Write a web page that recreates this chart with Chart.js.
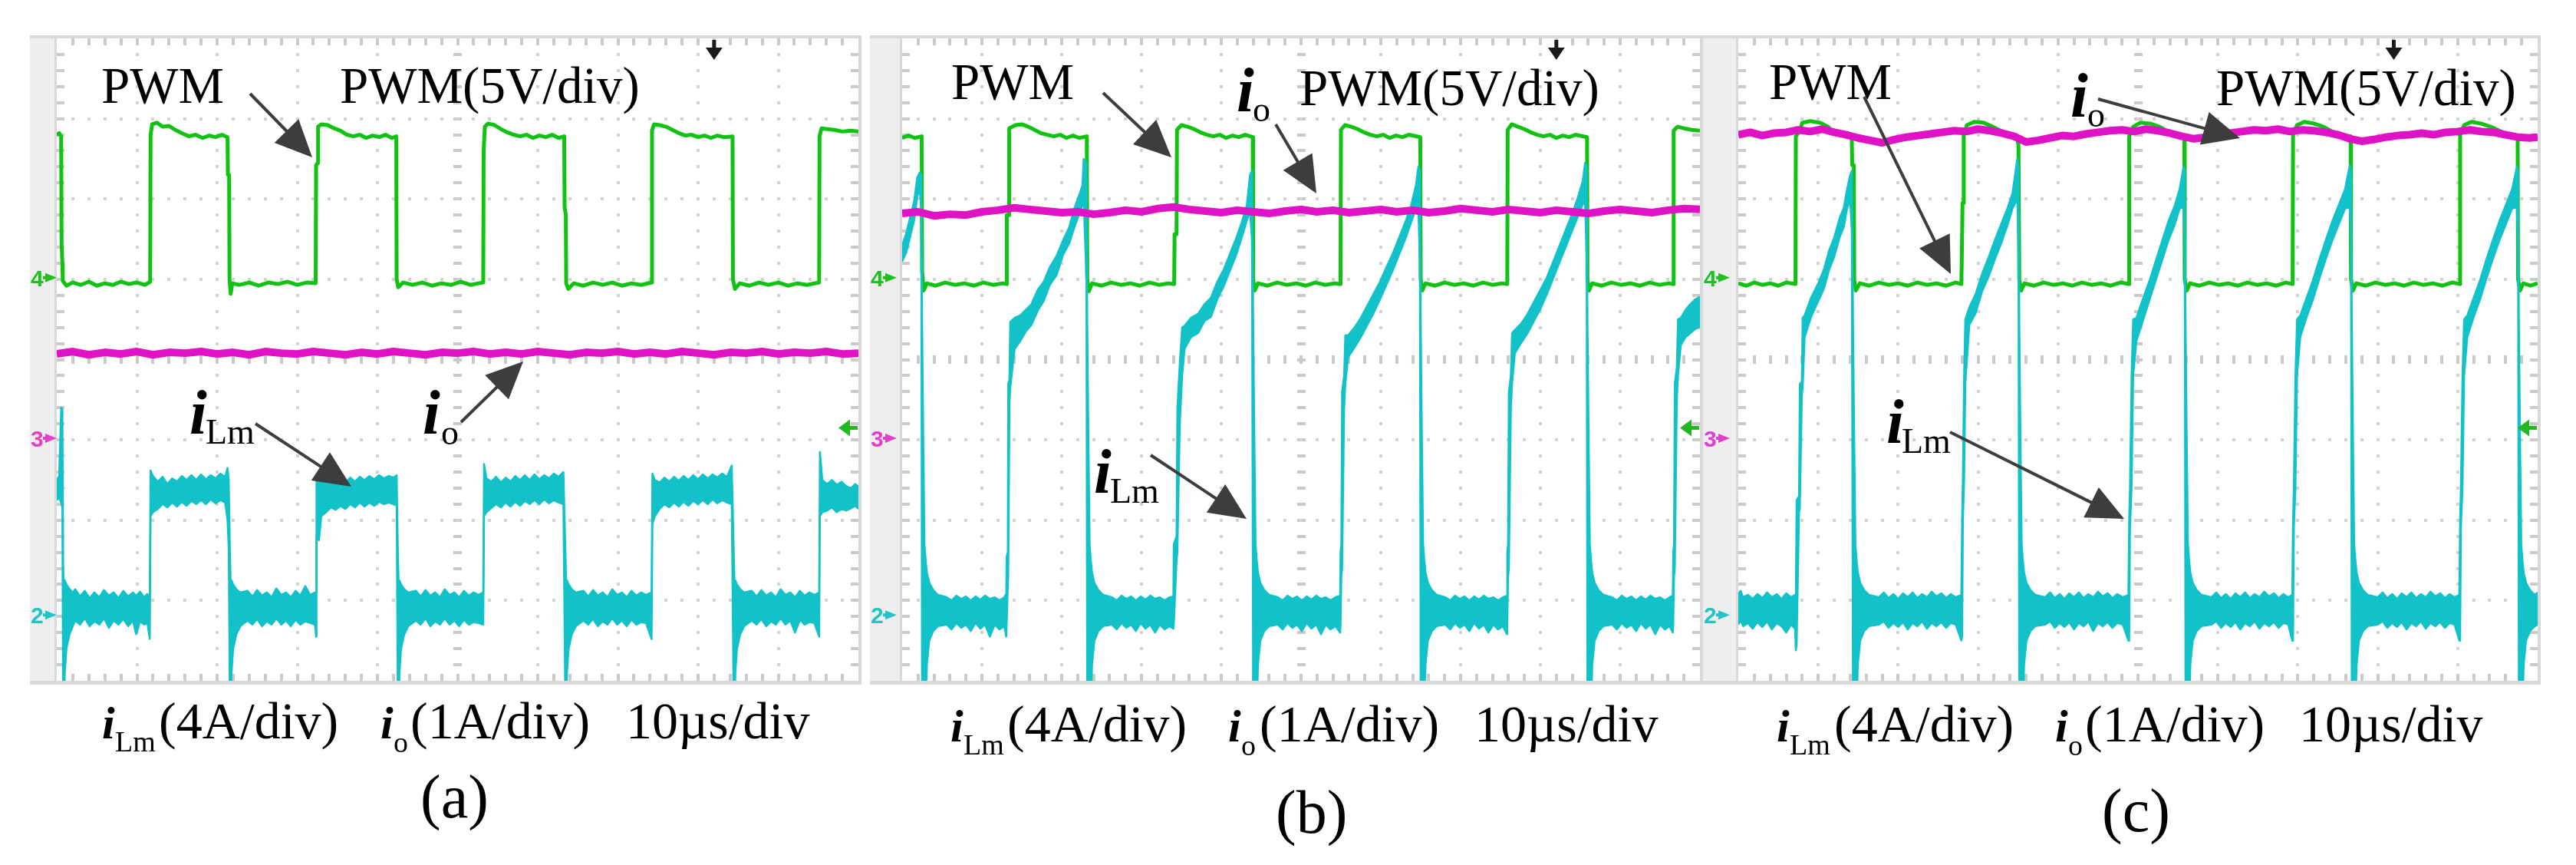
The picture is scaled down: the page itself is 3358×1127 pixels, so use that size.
<!DOCTYPE html>
<html><head><meta charset="utf-8">
<script src="https://cdn.jsdelivr.net/npm/chart.js@4.4.1/dist/chart.umd.min.js"></script>
<style>
html,body{margin:0;padding:0;background:#fff;width:3358px;height:1127px;overflow:hidden;}
.frame{position:absolute;background:#d9d9d9;}
.strip{position:absolute;background:#eeeeee;}
canvas{position:absolute;background:#fff;}
#ov{position:absolute;left:0;top:0;pointer-events:none;}
</style></head><body>
<div id="root"></div>
<svg id="ov" width="3358" height="1127"></svg>
<script>
// ---------------- DATA (time in µs, amplitude in divisions) ----------------
// Panel (a)
const pwmA = [[0,2.8],[0.3,2.82],[0.55,2.78],[0.6,1.45],[0.7,1.2],[0.75,0.98],[1.2,0.92],[2,0.96],[3,0.93],[4,0.97],[5,0.92],[6,0.95],[7,0.93],[8,0.97],[9,0.94],[10,0.96],[11,0.93],[11.65,0.97],
[11.7,2.8],[11.9,2.93],[12.5,2.95],[13.2,2.9],[14,2.91],[14.8,2.86],[15.6,2.82],[16.5,2.78],[17.3,2.8],[18.2,2.76],[19,2.79],[19.8,2.77],[20.6,2.8],[21.3,2.77],[21.35,2.3],[21.5,2.3],[21.55,1.0],[21.7,0.82],[21.9,0.95],[22.8,0.93],[24,0.96],[25.2,0.92],[26.4,0.96],[27.6,0.94],[28.8,0.97],[30,0.93],[31.2,0.96],[32.3,0.95],
[32.35,2.42],[32.55,2.45],[32.6,2.9],[33,2.93],[33.8,2.92],[34.6,2.88],[35.4,2.85],[36.2,2.8],[37,2.78],[37.8,2.8],[38.6,2.76],[39.4,2.79],[40.2,2.77],[41,2.8],[41.8,2.76],[42.35,2.78],[42.4,1.0],[42.6,0.9],[43.2,0.96],[44.4,0.93],[45.6,0.96],[46.8,0.92],[48,0.95],[49.2,0.93],[50.4,0.97],[51.6,0.93],[52.6,0.95],[53.2,0.96],
[53.25,2.6],[53.4,2.9],[53.8,2.94],[54.6,2.92],[55.4,2.87],[56.2,2.83],[57,2.8],[57.8,2.78],[58.6,2.8],[59.4,2.76],[60.2,2.79],[61,2.77],[61.8,2.8],[62.6,2.76],[63.3,2.78],[63.35,1.9],[63.5,1.8],[63.55,0.95],[63.8,0.88],[64.5,0.95],[65.7,0.92],[66.9,0.96],[68.1,0.93],[69.3,0.96],[70.5,0.92],[71.7,0.95],[72.9,0.93],[74.2,0.96],
[74.25,2.85],[74.5,2.93],[75.2,2.92],[76,2.9],[76.8,2.86],[77.6,2.82],[78.4,2.79],[79.2,2.8],[80,2.77],[80.8,2.79],[81.6,2.76],[82.4,2.79],[83.2,2.77],[84.3,2.78],[84.35,1.0],[84.6,0.88],[85.2,0.95],[86.4,0.92],[87.6,0.96],[88.8,0.93],[90,0.96],[91.2,0.92],[92.4,0.95],[93.6,0.93],[95.1,0.96],
[95.15,2.78],[95.4,2.88],[96.2,2.87],[97,2.86],[98,2.84],[99,2.85],[100,2.84]];

const ioA = [[0,0.07],[2,0.1],[4,0.06],[6,0.09],[8,0.07],[10,0.1],[12,0.06],[14,0.09],[16,0.08],[18,0.1],[20,0.07],[22,0.09],[24,0.06],[26,0.1],[28,0.08],[30,0.07],[32,0.1],[34,0.08],[36,0.06],[38,0.09],[40,0.07],[42,0.1],[44,0.08],[46,0.06],[48,0.09],[50,0.08],[52,0.1],[54,0.07],[56,0.09],[58,0.07],[60,0.1],[62,0.08],[64,0.06],[66,0.09],[68,0.08],[70,0.1],[72,0.07],[74,0.09],[76,0.07],[78,0.1],[80,0.08],[82,0.06],[84,0.09],[86,0.08],[88,0.1],[90,0.07],[92,0.09],[94,0.08],[96,0.1],[98,0.07],[100,0.08]];

// [t, upper edge of noisy trace, lower edge of noisy trace]
const iLmA = [[0,-1.5,-1.75],[0.3,-1.45,-1.72],[0.55,-0.6,-1.78],[0.7,-0.62,-1.85],[0.8,-2.6,-4.4],[0.9,-2.8,-4.4],[1.0,-2.75,-3.9],[1.2,-2.8,-3.6],[1.6,-2.86,-3.42],[2.0,-2.9,-3.32],
[2.3,-2.86,-3.25],[2.9,-2.95,-3.3],[3.5,-2.88,-3.22],[4.1,-2.97,-3.32],[4.7,-2.9,-3.26],[5.3,-2.96,-3.3],[5.9,-2.87,-3.22],[6.5,-2.94,-3.34],[7.1,-2.9,-3.25],[7.7,-2.97,-3.3],[8.3,-2.88,-3.23],[8.9,-2.95,-3.32],[9.5,-2.9,-3.25],[9.9,-2.94,-3.42],[10.4,-2.89,-3.26],[10.9,-2.96,-3.3],[11.3,-2.92,-3.28],[11.6,-2.95,-3.48],
[11.7,-1.38,-1.95],[12.0,-1.45,-1.9],[12.6,-1.52,-1.86],[13.2,-1.46,-1.8],[13.8,-1.55,-1.84],[14.4,-1.48,-1.78],[15.0,-1.52,-1.83],[15.6,-1.45,-1.77],[16.2,-1.5,-1.82],[16.8,-1.44,-1.76],[17.4,-1.5,-1.8],[18.0,-1.43,-1.75],[18.6,-1.49,-1.8],[19.2,-1.44,-1.74],[19.8,-1.48,-1.79],[20.4,-1.42,-1.75],[21.0,-1.46,-1.78],[21.3,-1.35,-2.0],[21.45,-1.5,-2.35],
[21.6,-2.4,-4.4],[21.7,-2.8,-4.4],[21.8,-2.75,-3.9],[22.0,-2.8,-3.6],[22.4,-2.86,-3.42],[22.9,-2.9,-3.32],
[23.8,-2.88,-3.25],[24.4,-2.95,-3.3],[25.0,-2.87,-3.23],[25.6,-2.94,-3.32],[26.2,-2.9,-3.26],[26.8,-2.96,-3.3],[27.4,-2.85,-3.22],[28.0,-2.93,-3.3],[28.6,-2.9,-3.25],[29.2,-2.96,-3.32],[29.8,-2.88,-3.24],[30.4,-2.94,-3.3],[31.0,-2.82,-3.26],[31.6,-2.93,-3.28],[32.2,-2.9,-3.3],[32.35,-2.9,-3.45],
[32.4,-1.5,-2.2],[32.7,-1.52,-2.25],[33.0,-1.5,-1.95],[33.6,-1.55,-1.9],[34.2,-1.5,-1.84],[34.8,-1.56,-1.87],[35.4,-1.5,-1.82],[36.0,-1.54,-1.86],[36.6,-1.47,-1.8],[37.2,-1.52,-1.84],[37.8,-1.46,-1.78],[38.4,-1.5,-1.83],[39.0,-1.45,-1.78],[39.6,-1.49,-1.82],[40.2,-1.44,-1.77],[40.8,-1.48,-1.8],[41.4,-1.45,-1.78],[42.0,-1.47,-1.8],[42.4,-1.44,-1.82],
[42.55,-2.4,-4.4],[42.65,-2.8,-4.4],[42.75,-2.75,-3.9],[42.95,-2.8,-3.6],[43.35,-2.86,-3.42],[43.85,-2.9,-3.32],
[44.8,-2.88,-3.25],[45.4,-2.95,-3.3],[46.0,-2.87,-3.22],[46.6,-2.94,-3.32],[47.2,-2.9,-3.26],[47.8,-2.96,-3.3],[48.4,-2.86,-3.22],[49.0,-2.93,-3.3],[49.6,-2.9,-3.25],[50.2,-2.96,-3.32],[50.8,-2.88,-3.24],[51.4,-2.94,-3.3],[52.0,-2.9,-3.27],[52.6,-2.93,-3.28],[53.2,-2.9,-3.3],
[53.3,-1.3,-1.95],[53.6,-1.48,-1.9],[54.2,-1.52,-1.85],[54.8,-1.46,-1.8],[55.4,-1.53,-1.84],[56.0,-1.47,-1.78],[56.6,-1.52,-1.83],[57.2,-1.45,-1.77],[57.8,-1.5,-1.82],[58.4,-1.44,-1.76],[59.0,-1.5,-1.8],[59.6,-1.43,-1.75],[60.2,-1.49,-1.8],[60.8,-1.44,-1.74],[61.4,-1.48,-1.79],[62.0,-1.42,-1.75],[62.6,-1.46,-1.78],[63.2,-1.4,-1.8],
[63.45,-2.4,-4.4],[63.55,-2.8,-4.4],[63.65,-2.75,-3.9],[63.85,-2.8,-3.6],[64.25,-2.86,-3.42],[64.75,-2.9,-3.32],
[65.7,-2.88,-3.25],[66.3,-2.95,-3.3],[66.9,-2.87,-3.23],[67.5,-2.94,-3.32],[68.1,-2.9,-3.26],[68.7,-2.96,-3.3],[69.3,-2.86,-3.22],[69.9,-2.93,-3.3],[70.5,-2.9,-3.25],[71.1,-2.96,-3.32],[71.7,-2.88,-3.24],[72.3,-2.94,-3.3],[72.9,-2.9,-3.27],[73.5,-2.93,-3.28],[74.2,-2.9,-3.48],
[74.3,-1.42,-2.05],[74.6,-1.5,-1.95],[75.2,-1.53,-1.86],[75.8,-1.47,-1.8],[76.4,-1.52,-1.84],[77.0,-1.46,-1.78],[77.6,-1.51,-1.83],[78.2,-1.45,-1.77],[78.8,-1.5,-1.82],[79.4,-1.44,-1.76],[80.0,-1.49,-1.8],[80.6,-1.43,-1.75],[81.2,-1.48,-1.8],[81.8,-1.43,-1.74],[82.4,-1.47,-1.79],[83.0,-1.42,-1.75],[83.6,-1.46,-1.78],[84.2,-1.32,-1.8],
[84.45,-2.4,-4.4],[84.55,-2.8,-4.4],[84.65,-2.75,-3.9],[84.85,-2.8,-3.6],[85.25,-2.86,-3.42],[85.75,-2.9,-3.32],
[86.7,-2.88,-3.25],[87.3,-2.95,-3.3],[87.9,-2.87,-3.23],[88.5,-2.94,-3.32],[89.1,-2.9,-3.26],[89.7,-2.96,-3.3],[90.3,-2.86,-3.22],[90.9,-2.93,-3.3],[91.5,-2.9,-3.25],[92.1,-2.96,-3.4],[92.7,-2.88,-3.24],[93.3,-2.94,-3.3],[93.9,-2.9,-3.27],[94.5,-2.93,-3.28],[95.1,-2.9,-3.45],
[95.2,-1.15,-1.95],[95.5,-1.5,-1.9],[96.1,-1.55,-1.88],[96.7,-1.5,-1.84],[97.3,-1.56,-1.9],[97.9,-1.52,-1.86],[98.5,-1.58,-1.88],[99.1,-1.6,-1.85],[99.6,-1.55,-1.82],[100,-1.58,-1.86]];

// Panel (b)
const pwmB = [[0,2.76],[0.8,2.79],[1.6,2.76],[2.45,2.78],[2.5,1.1],[2.7,0.86],[3.1,0.95],[4.2,0.92],[5.4,0.96],[6.6,0.93],[7.8,0.95],[9,0.92],[10.2,0.96],[11.4,0.93],[12.6,0.95],[13.1,0.94],
[13.12,1.8],[13.4,1.8],[13.42,2.88],[14.2,2.92],[15,2.93],[15.8,2.9],[16.6,2.86],[17.4,2.82],[18.2,2.8],[19,2.78],[19.8,2.8],[20.6,2.76],[21.4,2.79],[22.2,2.76],[23.15,2.78],
[23.2,1.0],[23.4,0.85],[23.8,0.95],[25,0.92],[26.2,0.96],[27.4,0.93],[28.6,0.95],[29.8,0.92],[31,0.96],[32.2,0.93],[33.4,0.95],[34.1,0.94],
[34.15,1.56],[34.4,1.56],[34.45,2.86],[35,2.92],[35.8,2.9],[36.6,2.87],[37.4,2.83],[38.2,2.8],[39,2.78],[39.8,2.8],[40.6,2.76],[41.4,2.79],[42.2,2.77],[43.0,2.8],[43.95,2.77],
[44.0,1.0],[44.2,0.86],[44.6,0.95],[45.8,0.92],[47,0.96],[48.2,0.93],[49.4,0.95],[50.6,0.92],[51.8,0.96],[53,0.93],[54.2,0.95],[54.95,0.94],
[55.0,2.86],[55.5,2.92],[56.3,2.9],[57.1,2.87],[57.9,2.83],[58.7,2.8],[59.5,2.78],[60.3,2.8],[61.1,2.76],[61.9,2.79],[62.7,2.77],[63.5,2.8],[64.95,2.77],
[65.0,1.0],[65.2,0.86],[65.6,0.95],[66.8,0.92],[68,0.96],[69.2,0.93],[70.4,0.95],[71.6,0.92],[72.8,0.96],[74,0.93],[75.2,0.95],[75.85,0.94],
[75.9,2.86],[76.4,2.93],[77.2,2.9],[78,2.87],[78.8,2.83],[79.6,2.8],[80.4,2.78],[81.2,2.8],[82,2.76],[82.8,2.79],[83.6,2.77],[84.4,2.8],[85.85,2.77],
[85.9,1.0],[86.1,0.86],[86.5,0.95],[87.7,0.92],[88.9,0.96],[90.1,0.93],[91.3,0.95],[92.5,0.92],[93.7,0.96],[94.9,0.93],[96.1,0.95],[96.65,0.94],
[96.7,2.85],[97.2,2.9],[98,2.88],[99,2.86],[100,2.85]];

const ioB = [[0,1.82],[2,1.84],[4,1.79],[6,1.81],[8,1.8],[10,1.84],[12,1.86],[14,1.89],[16,1.87],[18,1.85],[20,1.83],[22,1.84],[24,1.81],[26,1.83],[28,1.86],[30,1.84],[32,1.88],[34,1.9],[36,1.87],[38,1.85],[40,1.83],[42,1.86],[44,1.84],[46,1.82],[48,1.85],[50,1.87],[52,1.84],[54,1.86],[56,1.83],[58,1.85],[60,1.87],[62,1.84],[64,1.86],[66,1.83],[68,1.85],[70,1.88],[72,1.86],[74,1.84],[76,1.87],[78,1.85],[80,1.83],[82,1.86],[84,1.84],[86,1.82],[88,1.85],[90,1.87],[92,1.85],[94,1.83],[96,1.86],[98,1.88],[100,1.87]];

const iLmB = [[0,1.42,1.22],[0.5,1.57,1.33],[1.0,1.77,1.53],[1.5,1.97,1.73],[1.9,2.27,2.03],[2.2,2.33,2.12],[2.4,2.3,1.9],
[2.5,0.5,-4.4],[2.65,-1.0,-4.4],[2.8,-2.3,-4.4],[2.95,-2.5,-4.4],[3.1,-2.65,-3.8],[3.4,-2.78,-3.5],[3.9,-2.87,-3.38],[4.5,-2.93,-3.32],
[5.6,-2.96,-3.3],[6.2,-3.0,-3.36],[6.8,-2.94,-3.28],[7.4,-2.98,-3.34],[8.0,-2.95,-3.3],[8.6,-3.0,-3.38],[9.2,-2.95,-3.28],[9.8,-2.99,-3.35],[10.4,-2.94,-3.3],[11.0,-2.98,-3.45],[11.6,-2.96,-3.3],[12.2,-3.0,-3.36],[12.8,-2.96,-3.32],[13.05,-2.92,-3.45],
[13.1,-2.45,-3.3],[13.25,-2.4,-2.8],[13.3,-0.3,-2.7],[13.45,-0.25,-0.55],[13.55,0.47,-0.35],[14.1,0.52,0.13],[14.8,0.55,0.23],[15.5,0.62,0.35],[16.2,0.69,0.43],[17.0,0.87,0.61],[17.75,0.97,0.73],[18.5,1.15,0.93],[19.35,1.29,1.05],[20.2,1.49,1.31],[20.95,1.65,1.45],[21.6,1.89,1.65],[22.2,2.05,1.81],[22.6,2.17,1.93],[22.75,2.5,2.0],[23.1,2.45,1.0],
[23.2,0.5,-4.4],[23.35,-1.0,-4.4],[23.5,-2.3,-4.4],[23.65,-2.5,-4.4],[23.8,-2.65,-3.8],[24.1,-2.78,-3.5],[24.6,-2.87,-3.38],[25.2,-2.93,-3.32],
[26.3,-2.96,-3.3],[26.9,-3.0,-3.36],[27.5,-2.94,-3.28],[28.1,-2.98,-3.34],[28.7,-2.95,-3.3],[29.3,-3.0,-3.38],[29.9,-2.95,-3.28],[30.5,-2.99,-3.35],[31.1,-2.94,-3.3],[31.7,-2.98,-3.4],[32.3,-2.96,-3.3],[32.9,-3.0,-3.36],[33.5,-2.96,-3.32],[34.0,-2.95,-3.35],
[34.05,-2.3,-3.3],[34.4,-2.2,-2.5],[34.5,-0.6,-2.4],[34.8,-0.05,-0.8],[35.1,0.4,-0.2],[35.4,0.42,0.13],[36.2,0.52,0.28],[37.1,0.57,0.33],[37.9,0.69,0.48],[38.7,0.77,0.53],[39.5,0.97,0.75],[40.3,1.12,0.91],[41.1,1.32,1.11],[41.9,1.52,1.31],[42.6,1.72,1.53],[43.2,1.92,1.73],[43.6,2.3,1.85],[43.85,2.35,1.5],
[44.0,0.5,-4.4],[44.15,-1.0,-4.4],[44.3,-2.3,-4.4],[44.45,-2.5,-4.4],[44.6,-2.65,-3.8],[44.9,-2.78,-3.5],[45.4,-2.87,-3.38],[46.0,-2.93,-3.32],
[47.1,-2.96,-3.3],[47.7,-3.0,-3.36],[48.3,-2.94,-3.28],[48.9,-2.98,-3.34],[49.5,-2.95,-3.3],[50.1,-3.0,-3.38],[50.7,-2.95,-3.28],[51.3,-2.99,-3.35],[51.9,-2.94,-3.3],[52.5,-2.98,-3.42],[53.1,-2.96,-3.3],[53.7,-3.0,-3.36],[54.3,-2.96,-3.32],[54.9,-2.94,-3.4],
[54.95,-2.4,-3.3],[55.05,-2.3,-2.7],[55.15,-0.4,-2.6],[55.4,-0.2,-0.6],[55.55,0.3,-0.3],[55.9,0.3,0.03],[56.7,0.4,0.15],[57.5,0.52,0.28],[58.3,0.67,0.43],[59.1,0.82,0.58],[59.9,0.97,0.75],[60.7,1.15,0.93],[61.5,1.32,1.11],[62.3,1.52,1.31],[63.1,1.72,1.51],[63.8,1.92,1.71],[64.4,2.17,1.88],[64.7,2.4,1.9],[64.9,2.35,1.2],
[65.0,0.5,-4.4],[65.15,-1.0,-4.4],[65.3,-2.3,-4.4],[65.45,-2.5,-4.4],[65.6,-2.65,-3.8],[65.9,-2.78,-3.5],[66.4,-2.87,-3.38],[67.0,-2.93,-3.32],
[68.1,-2.96,-3.3],[68.7,-3.0,-3.36],[69.3,-2.94,-3.28],[69.9,-2.98,-3.34],[70.5,-2.95,-3.3],[71.1,-3.0,-3.38],[71.7,-2.95,-3.28],[72.3,-2.99,-3.35],[72.9,-2.94,-3.3],[73.5,-2.98,-3.4],[74.1,-2.96,-3.3],[74.7,-3.0,-3.36],[75.3,-2.96,-3.32],[75.8,-2.94,-3.42],
[75.85,-2.4,-3.3],[75.95,-2.3,-2.7],[76.05,-0.4,-2.6],[76.3,-0.2,-0.6],[76.45,0.33,-0.3],[76.8,0.37,0.08],[77.6,0.45,0.21],[78.4,0.57,0.33],[79.2,0.72,0.48],[80.0,0.87,0.63],[80.8,1.02,0.81],[81.6,1.22,1.01],[82.4,1.42,1.21],[83.2,1.62,1.41],[84.0,1.82,1.61],[84.7,2.02,1.78],[85.3,2.22,1.93],[85.6,2.45,1.95],[85.8,2.4,1.3],
[85.9,0.5,-4.4],[86.05,-1.0,-4.4],[86.2,-2.3,-4.4],[86.35,-2.5,-4.4],[86.5,-2.65,-3.8],[86.8,-2.78,-3.5],[87.3,-2.87,-3.38],[87.9,-2.93,-3.32],
[89.0,-2.96,-3.3],[89.6,-3.0,-3.36],[90.2,-2.94,-3.28],[90.8,-2.98,-3.34],[91.4,-2.95,-3.3],[92.0,-3.0,-3.38],[92.6,-2.95,-3.28],[93.2,-2.99,-3.35],[93.8,-2.94,-3.3],[94.4,-2.98,-3.42],[95.0,-2.96,-3.3],[95.6,-3.0,-3.36],[96.2,-2.96,-3.32],[96.6,-2.94,-3.4],
[96.65,-2.4,-3.3],[96.75,-2.3,-2.7],[96.85,-0.3,-2.6],[97.1,-0.1,-0.5],[97.25,0.5,-0.2],[97.6,0.52,0.18],[98.2,0.62,0.28],[98.8,0.69,0.33],[99.4,0.75,0.38],[100,0.78,0.41]];

// Panel (c)
const pwmC = [[0,0.95],[1,0.92],[2,0.96],[3,0.93],[4,0.95],[5,0.92],[6,0.96],[7.15,0.94],
[7.2,2.78],[7.7,2.85],[8.0,2.95],[9.0,2.97],[10.2,2.95],[11.2,2.9],[11.8,2.84],[12.8,2.8],[14.0,2.78],[14.2,2.76],[14.25,2.42],[14.45,2.42],[14.5,1.0],[14.7,0.86],[15.2,0.95],[16.4,0.92],[17.6,0.96],[18.8,0.93],[20,0.95],[21.2,0.92],[22.4,0.96],[23.6,0.93],[24.8,0.95],[26,0.92],[27.2,0.96],[27.9,0.94],
[27.95,1.2],[28.0,1.2],[28.05,1.95],[28.15,1.95],[28.2,2.8],[28.6,2.92],[29.5,2.96],[30.7,2.95],[31.8,2.9],[32.8,2.85],[33.8,2.8],[34.8,2.78],[35.0,2.7],[35.05,2.66],[35.15,1.0],[35.4,0.86],[35.8,0.95],[37,0.92],[38.2,0.96],[39.4,0.93],[40.6,0.95],[41.8,0.92],[43,0.96],[44.2,0.93],[45.4,0.95],[46.6,0.92],[47.8,0.96],[48.85,0.94],
[48.9,2.78],[49.4,2.9],[50.3,2.95],[51.5,2.94],[52.7,2.9],[53.8,2.84],[54.9,2.8],[55.8,2.78],[55.85,1.0],[56.1,0.86],[56.5,0.95],[57.7,0.92],[58.9,0.96],[60.1,0.93],[61.3,0.95],[62.5,0.92],[63.7,0.96],[64.9,0.93],[66.1,0.95],[67.3,0.92],[68.5,0.96],[69.35,0.94],
[69.4,2.8],[69.9,2.92],[70.8,2.96],[72,2.94],[73.2,2.9],[74.3,2.84],[75.4,2.8],[76.6,2.78],[76.65,1.0],[76.9,0.86],[77.3,0.95],[78.5,0.92],[79.7,0.96],[80.9,0.93],[82.1,0.95],[83.3,0.92],[84.5,0.96],[85.7,0.93],[86.9,0.95],[88.1,0.92],[89.3,0.96],[90.25,0.94],
[90.3,2.8],[90.8,2.92],[91.7,2.96],[92.9,2.94],[94.1,2.9],[95.2,2.85],[96.3,2.8],[97.5,2.78],[97.55,1.0],[97.8,0.86],[98.2,0.95],[99.1,0.92],[100,0.95]];

const ioC = [[0,2.8],[1.5,2.83],[3,2.79],[4.5,2.82],[6,2.83],[7.5,2.86],[9,2.84],[10.5,2.87],[12,2.83],[13.5,2.8],[15,2.76],[16.5,2.73],[18,2.7],[19.5,2.74],[21,2.77],[22.5,2.79],[24,2.81],[25.5,2.83],[27,2.85],[28.5,2.84],[30,2.87],[31.5,2.85],[33,2.82],[34.5,2.78],[36,2.71],[37.5,2.73],[39,2.76],[40.5,2.79],[42,2.78],[43.5,2.81],[45,2.83],[46.5,2.85],[48,2.86],[49.5,2.84],[51,2.87],[52.5,2.85],[54,2.82],[55.5,2.78],[57,2.75],[58.5,2.77],[60,2.8],[61.5,2.82],[63,2.84],[64.5,2.86],[66,2.85],[67.5,2.87],[69,2.84],[70.5,2.86],[72,2.85],[73.5,2.83],[75,2.8],[76.5,2.75],[78,2.72],[79.5,2.74],[81,2.77],[82.5,2.79],[84,2.8],[85.5,2.82],[87,2.8],[88.5,2.83],[90,2.84],[91.5,2.86],[93,2.84],[94.5,2.83],[96,2.8],[97.5,2.77],[99,2.76],[100,2.77]];

const iLmC = [[0,-2.92,-3.3],[0.3,-2.88,-3.25],[0.6,-2.96,-3.32],[1.2,-2.93,-3.28],[1.8,-2.98,-3.35],[2.4,-2.92,-3.27],[3.0,-2.97,-3.33],[3.6,-2.9,-3.26],[4.2,-2.96,-3.36],[4.8,-2.92,-3.28],[5.4,-2.98,-3.32],[6.0,-2.91,-3.4],[6.6,-2.96,-3.3],[7.1,-2.93,-3.35],
[7.2,-2.95,-3.62],[7.3,-1.75,-3.55],[7.6,-1.7,-1.9],[7.7,-0.3,-1.85],[7.95,-0.28,-0.45],[8.05,0.52,-0.35],[8.3,0.55,0.28],[9.1,0.77,0.53],[10.0,0.95,0.73],[10.7,1.12,0.88],[11.4,1.37,1.13],[12.0,1.52,1.28],[12.7,1.77,1.53],[13.2,1.89,1.65],[13.6,2.12,1.88],[14.0,2.3,1.98],[14.2,2.35,1.6],
[14.35,0.5,-4.4],[14.5,-1.0,-4.4],[14.65,-2.3,-4.4],[14.8,-2.5,-4.4],[14.95,-2.65,-3.8],[15.25,-2.78,-3.5],[15.75,-2.87,-3.38],[16.35,-2.93,-3.32],
[17.6,-2.96,-3.3],[18.2,-2.9,-3.26],[18.8,-2.97,-3.34],[19.4,-2.92,-3.28],[20.0,-2.98,-3.33],[20.6,-2.91,-3.27],[21.2,-2.96,-3.36],[21.8,-2.9,-3.28],[22.4,-2.97,-3.32],[23.0,-2.92,-3.26],[23.6,-2.96,-3.35],[24.2,-2.89,-3.28],[24.8,-2.95,-3.32],[25.4,-2.91,-3.27],[26.0,-2.97,-3.34],[26.6,-2.92,-3.28],[27.2,-2.96,-3.3],[27.9,-2.93,-3.5],
[28.0,-2.0,-3.45],[28.1,-1.45,-2.0],[28.25,-0.2,-1.5],[28.4,0.5,-0.3],[28.9,0.65,0.43],[29.7,0.82,0.58],[30.5,1.07,0.85],[31.3,1.27,1.03],[32.1,1.49,1.25],[32.9,1.69,1.45],[33.7,1.89,1.68],[34.3,2.07,1.88],[34.9,2.5,2.0],[35.05,2.4,1.5],
[35.15,0.5,-4.4],[35.3,-1.0,-4.4],[35.45,-2.3,-4.4],[35.6,-2.5,-4.4],[35.75,-2.65,-3.8],[36.05,-2.78,-3.5],[36.55,-2.87,-3.38],[37.15,-2.93,-3.32],
[38.4,-2.96,-3.3],[39.0,-2.9,-3.26],[39.6,-2.97,-3.34],[40.2,-2.92,-3.28],[40.8,-2.98,-3.33],[41.4,-2.91,-3.27],[42.0,-2.96,-3.36],[42.6,-2.9,-3.28],[43.2,-2.97,-3.32],[43.8,-2.92,-3.26],[44.4,-2.96,-3.38],[45.0,-2.89,-3.28],[45.6,-2.95,-3.32],[46.2,-2.91,-3.27],[46.8,-2.97,-3.34],[47.4,-2.92,-3.28],[48.1,-2.96,-3.3],[48.8,-2.93,-3.5],
[48.9,-2.0,-3.5],[49.0,-1.6,-2.1],[49.2,-0.2,-1.6],[49.4,0.5,-0.2],[49.8,0.52,0.23],[50.6,0.75,0.48],[51.4,0.97,0.73],[52.2,1.22,0.98],[53.0,1.47,1.23],[53.8,1.72,1.48],[54.6,1.92,1.68],[55.2,2.12,1.88],[55.7,2.4,1.9],[55.85,2.35,1.5],
[55.95,0.5,-4.4],[56.1,-1.0,-4.4],[56.25,-2.3,-4.4],[56.4,-2.5,-4.4],[56.55,-2.65,-3.8],[56.85,-2.78,-3.5],[57.35,-2.87,-3.38],[57.95,-2.93,-3.32],
[59.2,-2.96,-3.3],[59.8,-2.9,-3.26],[60.4,-2.97,-3.34],[61.0,-2.92,-3.28],[61.6,-2.98,-3.33],[62.2,-2.91,-3.27],[62.8,-2.96,-3.36],[63.4,-2.9,-3.28],[64.0,-2.97,-3.32],[64.6,-2.92,-3.26],[65.2,-2.96,-3.35],[65.8,-2.89,-3.28],[66.4,-2.95,-3.32],[67.0,-2.91,-3.27],[67.6,-2.97,-3.34],[68.2,-2.92,-3.28],[68.8,-2.96,-3.3],[69.3,-2.93,-3.5],
[69.4,-2.0,-3.5],[69.5,-1.6,-2.1],[69.7,-0.2,-1.6],[69.9,0.5,-0.2],[70.3,0.55,0.28],[71.1,0.77,0.53],[71.9,0.99,0.75],[72.7,1.25,1.01],[73.5,1.49,1.25],[74.3,1.72,1.48],[75.1,1.92,1.68],[75.9,2.12,1.88],[76.5,2.42,1.9],[76.65,2.35,1.5],
[76.75,0.5,-4.4],[76.9,-1.0,-4.4],[77.05,-2.3,-4.4],[77.2,-2.5,-4.4],[77.35,-2.65,-3.8],[77.65,-2.78,-3.5],[78.15,-2.87,-3.38],[78.75,-2.93,-3.32],
[80.0,-2.96,-3.3],[80.6,-2.9,-3.26],[81.2,-2.97,-3.34],[81.8,-2.92,-3.28],[82.4,-2.98,-3.33],[83.0,-2.91,-3.27],[83.6,-2.96,-3.36],[84.2,-2.9,-3.28],[84.8,-2.97,-3.32],[85.4,-2.92,-3.26],[86.0,-2.96,-3.35],[86.6,-2.89,-3.28],[87.2,-2.95,-3.32],[87.8,-2.91,-3.27],[88.4,-2.97,-3.34],[89.0,-2.92,-3.28],[89.6,-2.96,-3.3],[90.2,-2.93,-3.5],
[90.3,-2.0,-3.5],[90.4,-1.6,-2.1],[90.6,-0.2,-1.6],[90.8,0.5,-0.2],[91.2,0.55,0.28],[92.0,0.77,0.53],[92.8,0.99,0.75],[93.6,1.25,1.01],[94.4,1.49,1.25],[95.2,1.72,1.48],[96.0,1.92,1.68],[96.8,2.12,1.88],[97.4,2.4,1.9],[97.55,2.35,1.5],
[97.65,0.5,-4.4],[97.8,-1.0,-4.4],[97.95,-2.3,-4.4],[98.1,-2.5,-4.4],[98.25,-2.65,-3.8],[98.55,-2.78,-3.5],[99.05,-2.87,-3.38],[99.65,-2.93,-3.32],[100,-2.9,-3.3]];

// channel ground markers (divisions) and trigger settings
const CH_MARKERS = [{ch:'4', level:1.02, color:'#22bf22'}, {ch:'3', level:-0.98, color:'#e040cc'}, {ch:'2', level:-3.18, color:'#22c4c8'}];
const TRIG_LEVEL = -0.85;
const TRIG_TIME = [82, 82, 82];

// ---------------- LAYOUT ----------------
const GREEN='#12c212', MAGENTA='#e012c6', CYAN='#12c2c8';
const GRID_TOP = 50, GRID_BOTTOM = 887;
const PANELS = [
  {gridL:74,   gridR:1119, stripL:39,   pwm:pwmA, io:ioA, ilm:iLmA},
  {gridL:1176, gridR:2216, stripL:1134, pwm:pwmB, io:ioB, ilm:iLmB},
  {gridL:2266, gridR:3308, stripL:2220, pwm:pwmC, io:ioC, ilm:iLmC}
];

const scopeGrid = {
  id:'scopeGrid',
  beforeDatasetsDraw(chart){
    const {ctx, chartArea:a, scales:{x, y}} = chart;
    ctx.save();
    const box = (cx, cy, w, h, c) => { ctx.fillStyle = c; ctx.fillRect(Math.round(cx - w/2), Math.round(cy - h/2), w, h); };
    for (let i = 1; i < 10; i++) {
      const px = x.getPixelForValue(i * 10);
      for (let k = -19; k <= 19; k++) {
        const py = y.getPixelForValue(k * 0.2);
        if (i === 5) box(px, py, 11, 4, '#c9c9c9'); else box(px, py, 4, 4, '#d3d3d3');
      }
    }
    for (let j = -3; j <= 3; j++) {
      const py = y.getPixelForValue(j);
      for (let k = 1; k < 50; k++) {
        const px = x.getPixelForValue(k * 2);
        if (j === 0) box(px, py, 4, 11, '#c9c9c9'); else box(px, py, 4, 4, '#d3d3d3');
      }
    }
    ctx.fillStyle = '#cbcbcb';
    for (let k = 1; k < 50; k++) {
      const px = Math.round(x.getPixelForValue(k * 2));
      ctx.fillRect(px - 2, a.top, 4, 9);
      ctx.fillRect(px - 2, a.bottom - 9, 4, 9);
    }
    for (let k = -19; k <= 19; k++) {
      const py = Math.round(y.getPixelForValue(k * 0.2));
      ctx.fillRect(a.left, py - 2, 10, 4);
      ctx.fillRect(a.right - 10, py - 2, 10, 4);
    }
    ctx.restore();
  }
};

const root = document.getElementById('root');
const charts = [];
function addDiv(cls, l, t, w, h) {
  const d = document.createElement('div'); d.className = cls;
  Object.assign(d.style, {left:l+'px', top:t+'px', width:w+'px', height:h+'px'});
  root.appendChild(d);
}
const pts = (arr, k) => arr.map(p => ({x:p[0], y:p[k]}));

PANELS.forEach(p => {
  addDiv('frame', p.stripL, GRID_TOP - 4, p.gridR + 4 - p.stripL, GRID_BOTTOM + 5 - (GRID_TOP - 4));
  addDiv('strip', p.stripL, GRID_TOP, p.gridL - 3 - p.stripL, GRID_BOTTOM - GRID_TOP);
  const c = document.createElement('canvas');
  c.width = p.gridR - p.gridL; c.height = GRID_BOTTOM - GRID_TOP;
  Object.assign(c.style, {left:p.gridL+'px', top:GRID_TOP+'px', width:c.width+'px', height:c.height+'px'});
  root.appendChild(c);
  const ch = new Chart(c, {
    type:'line',
    data:{datasets:[
      {label:'io', data:pts(p.io,1), borderColor:MAGENTA, borderWidth:10, fill:false},
      {label:'iLm+', data:pts(p.ilm,1), borderColor:CYAN, borderWidth:2.5, fill:'+1', backgroundColor:CYAN},
      {label:'iLm-', data:pts(p.ilm,2), borderColor:CYAN, borderWidth:2.5, fill:false},
      {label:'PWM', data:pts(p.pwm,1), borderColor:GREEN, borderWidth:5, fill:false}
    ]},
    options:{
      responsive:false, animation:false, events:[], devicePixelRatio:1,
      layout:{padding:0},
      elements:{point:{radius:0, hitRadius:0}, line:{tension:0, borderJoinStyle:'round', borderCapStyle:'butt'}},
      scales:{
        x:{type:'linear', min:0, max:100, display:false},
        y:{type:'linear', min:-4, max:4, display:false}
      },
      plugins:{legend:{display:false}, tooltip:{enabled:false}}
    },
    plugins:[scopeGrid]
  });
  charts.push(ch);
});

// ---------------- OVERLAY (text, arrows, markers) ----------------
const svg = document.getElementById('ov');
const NS = 'http://www.w3.org/2000/svg';
function el(tag, attrs, text) {
  const e = document.createElementNS(NS, tag);
  for (const k in attrs) e.setAttribute(k, attrs[k]);
  if (text !== undefined) e.textContent = text;
  svg.appendChild(e); return e;
}
const SERIF = "'Liberation Serif','Times New Roman',serif";
function txt(x, y, s, size, it) {
  el('text', {x, y, 'font-family':SERIF, 'font-size':size, 'font-style':it?'italic':'normal', 'font-weight':it?'bold':'normal', fill:'#000'}, s);
}
const LABELS = [
  // (a)
  [132,134,'PWM',67,0],[443,134,'PWM(5V/div)',67,0],
  [247,565,'i',82,1],[268,578,'Lm',46,0],
  [551,565,'i',82,1],[575,579,'o',46,0],
  [133,962,'i',60,1],[150,979,'Lm',38,0],[207,962,'(4A/div)',68,0],
  [496,962,'i',60,1],[513,980,'o',38,0],[535,962,'(1A/div)',68,0],[816,962,'10µs/div',68,0],
  [548,1065,'(a)',80,0],
  // (b)
  [1240,129,'PWM',67,0],[1612,145,'i',82,1],[1633,158,'o',46,0],[1694,137,'PWM(5V/div)',67,0],
  [1426,642,'i',82,1],[1447,655,'Lm',46,0],
  [1239,966,'i',60,1],[1256,983,'Lm',38,0],[1313,966,'(4A/div)',68,0],
  [1601,966,'i',60,1],[1618,984,'o',38,0],[1642,966,'(1A/div)',68,0],[1922,966,'10µs/div',68,0],
  [1663,1085,'(b)',80,0],
  // (c)
  [2306,129,'PWM',67,0],[2699,152,'i',82,1],[2721,165,'o',46,0],[2889,137,'PWM(5V/div)',67,0],
  [2459,577,'i',82,1],[2479,590,'Lm',46,0],
  [2316,966,'i',60,1],[2333,983,'Lm',38,0],[2391,966,'(4A/div)',68,0],
  [2679,966,'i',60,1],[2696,984,'o',38,0],[2718,966,'(1A/div)',68,0],[2997,966,'10µs/div',68,0],
  [2740,1083,'(c)',80,0]
];
LABELS.forEach(l => txt(l[0], l[1], l[2], l[3], l[4]));

const ARROWS = [
  [326,122,407,205],[601,550,682,471],[333,552,458,634],
  [1438,121,1527,205],[1663,162,1716,252],[1500,593,1625,676],
  [2430,126,2543,357],[2735,129,2920,180],[2542,563,2769,676]
];
const HEAD_L = 48, HEAD_W = 44, ARROW_C = '#3d3d3d';
ARROWS.forEach(([tx,ty,ax,ay]) => {
  const dx = ax - tx, dy = ay - ty, L = Math.hypot(dx, dy), ux = dx/L, uy = dy/L;
  const bx = ax - ux*HEAD_L, by = ay - uy*HEAD_L, nx = -uy, ny = ux;
  el('line', {x1:tx, y1:ty, x2:bx+ux*4, y2:by+uy*4, stroke:ARROW_C, 'stroke-width':4});
  el('polygon', {points:`${ax},${ay} ${bx+nx*HEAD_W/2},${by+ny*HEAD_W/2} ${bx-nx*HEAD_W/2},${by-ny*HEAD_W/2}`, fill:ARROW_C});
});

// channel markers, trigger markers (positions from chart scales)
charts.forEach((ch, i) => {
  const p = PANELS[i];
  const yS = ch.scales.y, xS = ch.scales.x;
  CH_MARKERS.forEach(m => {
    const py = GRID_TOP + yS.getPixelForValue(m.level);
    el('text', {x:p.stripL + 1, y:py + 11, 'font-family':"'Liberation Sans',Arial,sans-serif", 'font-weight':'bold', 'font-size':30, fill:m.color}, m.ch);
    const x0 = p.stripL + 20;
    el('polygon', {points:`${x0},${py-6} ${x0+15},${py} ${x0},${py+6}`, fill:m.color});
    el('rect', {x:x0-3, y:py-2, width:6, height:4, fill:m.color});
  });
  const ty = GRID_TOP + yS.getPixelForValue(TRIG_LEVEL);
  const ax = p.gridR - 26;
  el('polygon', {points:`${ax},${ty} ${ax+15},${ty-11} ${ax+15},${ty+11}`, fill:'#22b822'});
  el('rect', {x:ax+13, y:ty-2.5, width:12, height:5, fill:'#22b822'});
  const tx = p.gridL + xS.getPixelForValue(TRIG_TIME[i]);
  el('rect', {x:tx-2.5, y:GRID_TOP+2, width:5, height:12, fill:'#1a1a1a'});
  el('polygon', {points:`${tx-11},${GRID_TOP+12} ${tx+11},${GRID_TOP+12} ${tx},${GRID_TOP+28}`, fill:'#1a1a1a'});
});
</script></body></html>
